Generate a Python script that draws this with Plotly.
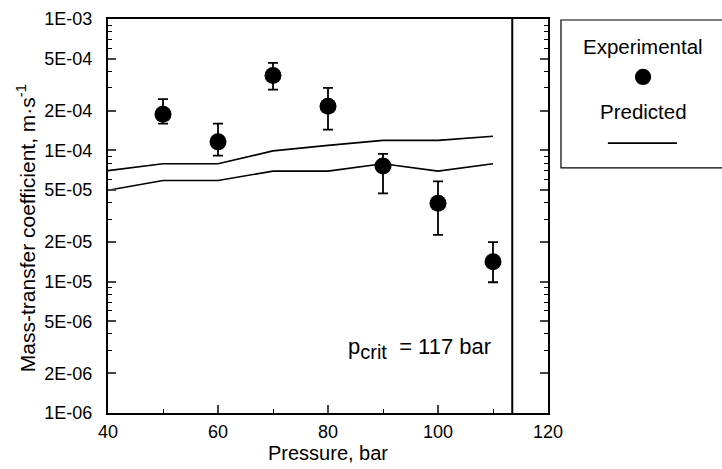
import plotly.graph_objects as go
import numpy as np

# Experimental data
pressure_exp = [50, 60, 70, 80, 90, 100, 110]
k_exp = [1.88e-4, 1.16e-4, 3.72e-4, 2.17e-4, 7.6e-5, 3.96e-5, 1.42e-5]
k_exp_hi = [2.45e-4, 1.6e-4, 4.64e-4, 2.99e-4, 9.4e-5, 5.8e-5, 2.0e-5]
k_exp_lo = [1.6e-4, 9.1e-5, 2.9e-4, 1.44e-4, 4.7e-5, 2.27e-5, 9.9e-6]

# Predicted curves
pressure_pred = [40, 50, 60, 70, 80, 90, 100, 110]
k_pred_upper = [7.0e-5, 7.9e-5, 7.9e-5, 9.9e-5, 1.09e-4, 1.19e-4, 1.19e-4, 1.28e-4]
k_pred_lower = [4.96e-5, 5.9e-5, 5.9e-5, 6.95e-5, 6.95e-5, 7.9e-5, 6.95e-5, 7.9e-5]

p_limit_line = 113.5

x_ticks = [40, 60, 80, 100, 120]
x_minor = [50, 70, 90, 110]
y_ticks = [1e-6, 2e-6, 5e-6, 1e-5, 2e-5, 5e-5, 1e-4, 2e-4, 5e-4, 1e-3]
y_ticktext = ["1E-06", "2E-06", "5E-06", "1E-05", "2E-05", "5E-05",
              "1E-04", "2E-04", "5E-04", "1E-03"]
y_minor = [m * 10.0 ** e for e in (-6, -5, -4) for m in (3, 4, 6, 7, 8, 9)]

FONT = "Liberation Sans, Arial, Helvetica, sans-serif"

fig = go.Figure()

for ys in (k_pred_upper, k_pred_lower):
    fig.add_trace(go.Scatter(
        x=pressure_pred, y=ys, mode="lines",
        line=dict(color="black", width=1.6), showlegend=False, hoverinfo="skip"))

err_plus = [h - v for h, v in zip(k_exp_hi, k_exp)]
err_minus = [v - l for v, l in zip(k_exp, k_exp_lo)]
fig.add_trace(go.Scatter(
    x=pressure_exp, y=k_exp, mode="markers",
    marker=dict(color="black", size=17, symbol="circle"),
    error_y=dict(type="data", array=err_plus, arrayminus=err_minus,
                 color="black", thickness=1.8, width=5),
    showlegend=False))

fig.add_shape(type="line", xref="x", yref="paper", x0=p_limit_line, x1=p_limit_line,
              y0=0, y1=1, line=dict(color="black", width=2))

fig.add_annotation(x=110, y=np.log10(3.1e-6), xref="x", yref="y",
                   text="p<sub><span style='font-size:20px'>crit</span></sub>  = 117 bar",
                   showarrow=False, xanchor="right", yanchor="middle",
                   font=dict(family=FONT, size=22, color="black"))

# y-axis title (placed as rotated text)
fig.add_annotation(xref="paper", yref="paper", x=-0.186, y=0.4695,
                   text="Mass-transfer coefficient, m·s<sup>-1</sup>",
                   textangle=-90, showarrow=False, xanchor="center", yanchor="middle",
                   font=dict(family=FONT, size=21, color="black"))

# custom legend box
fig.add_shape(type="rect", xref="paper", yref="paper",
              x0=1.0295, x1=1.6, y0=0.622, y1=0.9975,
              line=dict(color="black", width=1.2))
fig.add_annotation(xref="paper", yref="paper", x=1.216, y=0.929, text="Experimental",
                   showarrow=False, xanchor="center", yanchor="middle",
                   font=dict(family=FONT, size=20.5, color="black"))
fig.add_shape(type="circle", xref="paper", yref="paper",
              x0=1.216 - 0.0185, x1=1.216 + 0.0185, y0=0.853 - 0.0206, y1=0.853 + 0.0206,
              fillcolor="black", line=dict(color="black", width=0))
fig.add_annotation(xref="paper", yref="paper", x=1.216, y=0.764, text="Predicted",
                   showarrow=False, xanchor="center", yanchor="middle",
                   font=dict(family=FONT, size=20.5, color="black"))
fig.add_shape(type="line", xref="paper", yref="paper",
              x0=1.136, x1=1.293, y0=0.685, y1=0.685,
              line=dict(color="black", width=1.6))

fig.update_xaxes(
    range=[40, 120], tickvals=x_ticks, ticks="inside", ticklen=8, tickwidth=1.5,
    showline=True, linecolor="black", linewidth=2, mirror=True, showgrid=False,
    zeroline=False, tickfont=dict(family=FONT, size=18, color="black"),
    minor=dict(tickvals=x_minor, ticks="inside", ticklen=4, tickwidth=1.2,
               tickcolor="black", showgrid=False),
    title=dict(text="Pressure, bar", font=dict(family=FONT, size=20, color="black"),
               standoff=2),
    ticklabelstandoff=1, automargin=False,
)
fig.update_yaxes(
    type="log", range=[-6, -3], tickvals=y_ticks, ticktext=y_ticktext,
    ticks="inside", ticklen=8, tickwidth=1.5,
    showline=True, linecolor="black", linewidth=2, mirror="ticks", showgrid=False,
    zeroline=False, tickfont=dict(family=FONT, size=18, color="black"),
    minor=dict(tickvals=y_minor, ticks="inside", ticklen=4, tickwidth=1.2,
               tickcolor="black", showgrid=False),
    ticklabelstandoff=10, automargin=False,
)

fig.update_layout(
    width=722, height=469,
    margin=dict(l=108, r=174, t=19, b=56),
    paper_bgcolor="white", plot_bgcolor="white",
    showlegend=False,
)

fig.write_html("out.html",
               config={"displayModeBar": False},
               post_script="document.body.style.margin='0px';"
                           "document.body.style.overflow='hidden';")
